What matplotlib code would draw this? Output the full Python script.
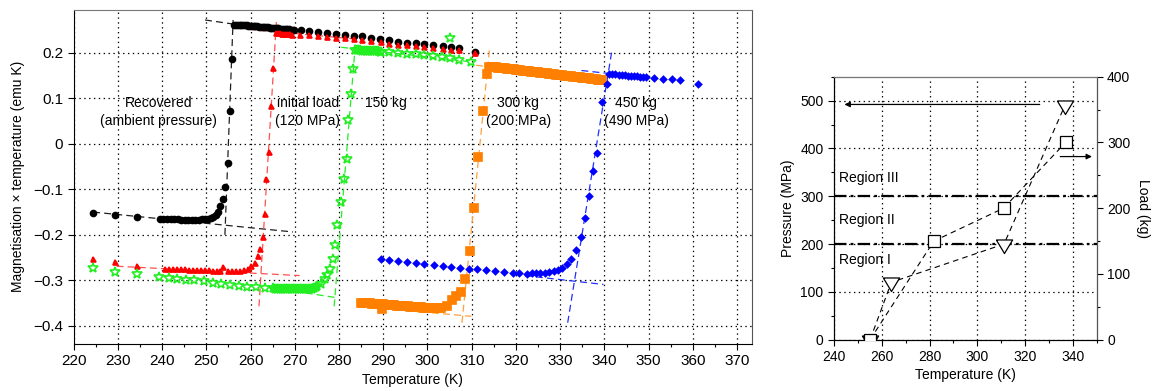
import matplotlib.pyplot as plt
from matplotlib.ticker import MultipleLocator

plt.rcParams['font.family'] = ['Liberation Sans', 'DejaVu Sans']
plt.rcParams['font.size'] = 10
plt.rcParams['lines.scale_dashes'] = False

# ---- left panel: magnetisation x temperature vs temperature ----
black_T = [224.4, 229.4, 234.4,
           239.5, 240.3, 241.1, 241.9, 242.7, 243.5, 244.3, 245.1, 245.9, 246.7, 247.5, 248.3, 249.1, 249.8,
           250.4, 251.0, 251.6, 252.1, 252.7, 253.2, 253.7, 254.2, 254.8, 255.3, 255.8,
           256.3, 256.7, 257.1, 257.5, 257.9, 258.3, 258.7, 259.1, 259.5, 259.9, 260.3, 260.7, 261.1, 261.5,
           261.9, 262.3, 262.7, 263.1, 263.5, 263.9, 264.3, 264.7, 265.1, 265.5, 265.9, 266.3, 266.7, 267.1,
           267.5, 267.9, 268.3, 268.7, 269.1, 269.5, 269.9,
           271.3, 273.3, 275.3, 277.2, 279.3, 281.3, 283.3, 285.2, 287.3, 289.3, 291.4, 293.4, 295.4, 297.4,
           299.3, 301.3, 303.4, 305.3, 307.1, 310.7]
black_M = [-0.151, -0.156, -0.161,
           -0.165, -0.165, -0.166, -0.166, -0.166, -0.166, -0.167, -0.167, -0.167, -0.167, -0.167, -0.167, -0.166, -0.166,
           -0.165, -0.163, -0.160, -0.156, -0.149, -0.137, -0.121, -0.095, -0.042, 0.072, 0.187,
           0.262, 0.262, 0.261, 0.261, 0.261, 0.260, 0.260, 0.260, 0.259, 0.259, 0.259, 0.258, 0.258, 0.258,
           0.257, 0.257, 0.257, 0.256, 0.256, 0.256, 0.255, 0.255, 0.255, 0.254, 0.254, 0.254, 0.253, 0.253,
           0.253, 0.252, 0.252, 0.252, 0.251, 0.251, 0.250,
           0.249, 0.247, 0.245, 0.243, 0.242, 0.240, 0.237, 0.236, 0.233, 0.230, 0.227, 0.2245, 0.222, 0.221,
           0.219, 0.218, 0.215, 0.212, 0.2105, 0.2025]

red_T = [224.3, 229.3, 234.4,
         240.6, 241.5, 242.4, 243.3, 244.2, 245.1, 246.0, 246.9, 247.8, 248.7, 249.6, 250.5, 251.4, 252.3,
         253.2, 253.8, 255.0, 255.9, 256.8, 257.7, 258.6, 259.4,
         260.2, 261.0, 261.6, 262.2, 262.7, 263.2, 263.6, 264.1, 264.7, 265.1,
         265.8, 266.2, 266.6, 267.0, 267.4, 267.8, 268.2, 268.6, 269.0, 269.4,
         271.1, 273.3, 275.2, 277.2, 279.3, 281.3, 283.3, 285.2, 287.3, 289.4, 291.4, 293.4, 295.4, 297.4,
         299.3, 301.3, 303.4, 305.3, 307.1, 310.7]
red_M = [-0.254, -0.260, -0.2675,
         -0.274, -0.274, -0.275, -0.275, -0.276, -0.276, -0.277, -0.277, -0.277, -0.278, -0.278, -0.278, -0.279, -0.279,
         -0.279, -0.270, -0.279, -0.279, -0.279, -0.279, -0.278, -0.275,
         -0.2675, -0.262, -0.247, -0.231, -0.205, -0.154, -0.077, -0.018, 0.082, 0.167,
         0.243, 0.243, 0.2425, 0.242, 0.242, 0.2415, 0.241, 0.241, 0.2405, 0.240,
         0.239, 0.238, 0.236, 0.235, 0.233, 0.232, 0.230, 0.229, 0.2255, 0.223, 0.220, 0.218, 0.216, 0.214,
         0.212, 0.211, 0.209, 0.207, 0.205, 0.199]

green_T = [224.3, 229.3, 234.4, 239.3, 241.5, 243.4, 245.5, 247.3, 249.4, 251.4, 253.3, 255.3, 257.3, 259.3,
           261.2, 263.3,
           265.1, 265.5, 265.9, 266.3, 266.7, 267.1, 267.5, 267.9, 268.3, 268.7, 269.1, 269.5, 269.9, 270.3,
           270.7, 271.1, 271.5, 271.9, 272.3, 272.7, 273.1, 273.5, 273.9, 274.3, 274.7, 275.1,
           276.0, 276.8, 277.3, 277.9, 278.6, 279.1, 279.5, 280.5, 281.1, 281.7, 282.1, 282.6, 283.2,
           283.6, 284.0, 284.4, 284.8, 285.2, 285.6, 286.0, 286.4, 286.8, 287.2, 287.6, 288.0, 288.4, 288.8,
           289.2, 289.6,
           291.3, 293.3, 295.4, 297.3, 299.3, 301.2, 303.2, 305.2, 307.2, 309.9, 305.2]
green_M = [-0.2727, -0.2807, -0.287, -0.293, -0.295, -0.2975, -0.299, -0.300, -0.302, -0.305, -0.307, -0.310,
           -0.313, -0.314, -0.315, -0.316,
           -0.317, -0.318, -0.318, -0.318, -0.319, -0.319, -0.319, -0.319, -0.320, -0.320, -0.320, -0.320,
           -0.320, -0.320, -0.320, -0.320, -0.320, -0.320, -0.320, -0.320, -0.319, -0.319, -0.318, -0.317,
           -0.315, -0.313,
           -0.309, -0.298, -0.289, -0.275, -0.253, -0.2215, -0.178, -0.128, -0.077, -0.034, 0.053, 0.109, 0.164,
           0.205, 0.205, 0.205, 0.205, 0.2045, 0.2045, 0.204, 0.204, 0.204, 0.2035, 0.2035, 0.203, 0.203,
           0.203, 0.2025, 0.2025,
           0.201, 0.200, 0.198, 0.197, 0.195, 0.193, 0.190, 0.188, 0.184, 0.180, 0.232]

orange_T = [285.0, 285.5, 286.0, 286.5, 287.0, 287.5, 288.0, 288.5, 289.0, 289.5, 290.0, 290.5, 291.0,
            291.5, 292.0, 292.5, 293.0, 293.5, 294.0, 294.5, 295.0, 295.5, 296.0, 296.5, 297.0, 297.5,
            298.0, 298.5, 299.0, 299.5, 300.0, 300.5, 301.0, 301.5, 302.0, 302.5, 303.0, 289.7,
            304.3, 305.5, 306.5, 307.5, 308.5, 309.5, 310.5, 311.5, 312.5, 313.5,
            314.0, 314.5, 315.0, 315.5, 316.0, 316.5, 317.0, 317.5, 318.0, 318.5, 319.0, 319.5, 320.0,
            320.5, 321.0, 321.5, 322.0, 322.5, 323.0, 323.5, 324.0, 324.5, 325.0, 325.5, 326.0, 326.5,
            327.0, 327.5, 328.0, 328.5, 329.0, 329.5, 330.0, 330.5, 331.0, 331.5, 332.0, 332.5, 333.0,
            333.5, 334.0, 334.5, 335.0, 335.5, 336.0, 336.5, 337.0, 337.5, 338.0, 338.5, 339.0, 339.5]
orange_M = [-0.3490, -0.3493, -0.3497, -0.3501, -0.3505, -0.3509, -0.3513, -0.3517, -0.3521, -0.3525,
            -0.3529, -0.3533, -0.3537, -0.3541, -0.3545, -0.3549, -0.3553, -0.3557, -0.3561, -0.3565,
            -0.3569, -0.3573, -0.3577, -0.3581, -0.3585, -0.3588, -0.3591, -0.3594, -0.3597, -0.3600,
            -0.3603, -0.3605, -0.3607, -0.3609, -0.3610, -0.3610, -0.3605, -0.3626,
            -0.357, -0.3436, -0.335, -0.325, -0.297, -0.235, -0.141, -0.029, 0.071, 0.153,
            0.1696, 0.1690, 0.1684, 0.1678, 0.1673, 0.1667, 0.1661, 0.1655, 0.1649, 0.1644,
            0.1638, 0.1632, 0.1626, 0.1620, 0.1615, 0.1609, 0.1603, 0.1597, 0.1591, 0.1586,
            0.1580, 0.1574, 0.1568, 0.1562, 0.1557, 0.1551, 0.1545, 0.1539, 0.1533, 0.1528,
            0.1522, 0.1516, 0.1510, 0.1504, 0.1499, 0.1493, 0.1487, 0.1481, 0.1475, 0.1470,
            0.1464, 0.1458, 0.1452, 0.1446, 0.1441, 0.1435, 0.1429, 0.1423, 0.1417, 0.1412,
            0.1406, 0.1400]

blue_T = [289.4, 291.4, 293.4, 295.3, 297.4, 299.3, 301.5, 303.5, 305.3, 307.3, 309.3, 311.3, 313.2,
          315.3, 317.3, 319.4, 320.6, 322.5, 323.7, 324.6, 325.5, 326.5, 327.5, 328.5, 329.5, 330.5,
          331.5, 332.5, 333.5, 334.6, 335.6, 336.5, 337.5, 338.4, 339.4, 340.6,
          341.1, 341.8, 342.5, 343.2, 343.9, 344.6, 345.3, 346.0, 346.7, 347.4, 348.1, 348.8, 349.5,
          351.3, 353.2, 355.3, 357.1, 361.2]
blue_M = [-0.252, -0.2547, -0.257, -0.2595, -0.262, -0.264, -0.266, -0.268, -0.270, -0.272, -0.274, -0.275,
          -0.277, -0.2796, -0.282, -0.2835, -0.284, -0.286, -0.284, -0.2835, -0.2835, -0.283, -0.282, -0.2796,
          -0.277, -0.272, -0.264, -0.252, -0.234, -0.205, -0.163, -0.115, -0.060, -0.0205, 0.0914, 0.1316,
          0.1535, 0.153, 0.1525, 0.152, 0.1515, 0.151, 0.150, 0.1495, 0.149, 0.148, 0.1475, 0.147, 0.146,
          0.144, 0.143, 0.142, 0.141, 0.1316]

# dashed fit lines: (T start, T end), (M start, M end)
black_fits = [((249.7, 265.0), (0.272, 0.2505)), ((224.4, 269.6), (-0.150, -0.1937)),
              ((254.2, 256.05), (-0.200, 0.272))]
red_fits = [((259.8, 285.0), (0.2515, 0.229)), ((229.7, 271.1), (-0.269, -0.2895)),
            ((261.9, 265.85), (-0.357, 0.270))]
green_fits = [((280.5, 309.0), (0.212, 0.181)), ((265.0, 279.4), (-0.3165, -0.338)),
              ((278.9, 283.95), (-0.357, 0.250))]
orange_fits = [((311.0, 339.5), (0.1725, 0.140)), ((296.0, 309.9), (-0.367, -0.379)),
               ((307.8, 314.05), (-0.393, 0.211))]
blue_fits = [((334.8, 350.0), (0.161, 0.145)), ((322.0, 339.8), (-0.2895, -0.309)),
             ((331.7, 341.7), (-0.393, 0.205))]

labels = ['Recovered\n(ambient pressure)', 'initial load\n(120 MPa)', '150 kg',
          '300 kg\n(200 MPa)', '450 kg\n(490 MPa)']
label_T = [239.1, 272.9, 290.5, 320.5, 347.2]
label_M = [0.070, 0.070, 0.090, 0.070, 0.070]

# ---- right panel: pressure / load vs transition temperature ----
press_T = [255.1, 264.0, 311.2, 336.7]
press = [0, 120, 200, 490]
load_T = [255.1, 281.8, 311.0, 337.0]
load = [0, 150, 200, 300]
region_lines = [200, 300]
region_names = ['Region I', 'Region II', 'Region III']
region_y = [167, 250, 338]


fig = plt.figure(figsize=(11.6, 3.91), dpi=100)
ax = fig.add_axes([0.0635, 0.120, 0.5845, 0.8557])

series = [
    (black_T, black_M, 'black', 'o', 4.3, 'black', black_fits, '#202020'),
    (red_T, red_M, 'red', '^', 3.6, 'red', red_fits, '#ff5050'),
    (green_T, green_M, '#22ee22', '*', 7.5, 'none', green_fits, '#22ee22'),
    (orange_T, orange_M, '#ff8000', 's', 5.2, '#ff8000', orange_fits, '#ffa040'),
    (blue_T, blue_M, 'blue', 'D', 3.2, 'blue', blue_fits, '#2030ff'),
]
for T, M, c, mk, ms, mfc, fits, fc in series:
    for (t0, t1), (m0, m1) in fits:
        ax.plot([t0, t1], [m0, m1], color=fc, lw=0.9, ls=(0, (5, 3)), zorder=2)
    ax.plot(T, M, ls='none', marker=mk, ms=ms, color=c, mfc=mfc, mec=c, mew=1.2, zorder=3)

for txt, t, m in zip(labels, label_T, label_M):
    ax.text(t, m, txt, ha='center', va='center', fontsize=10, linespacing=1.3, zorder=4)

ax.set_xlim(220, 373.3)
ax.set_ylim(-0.44, 0.295)
ax.xaxis.set_major_locator(MultipleLocator(10))
ax.xaxis.set_minor_locator(MultipleLocator(5))
ax.set_yticks([-0.4, -0.3, -0.2, -0.1, 0, 0.1, 0.2])
ax.set_yticklabels(['\u22120.4', '\u22120.3', '\u22120.2', '\u22120.1', '0', '0.1', '0.2'])
ax.grid(True, which='major', color='black', ls=(0, (1, 2.5)), lw=0.9)
ax.tick_params(labelsize=11, length=4, width=0.8)
ax.tick_params(which='minor', length=2.5, width=0.8)
ax.set_xlabel('Temperature (K)', fontsize=10, labelpad=3)
ax.set_ylabel('Magnetisation \u00d7 temperature (emu K)', fontsize=10, labelpad=6)
ax.spines['top'].set_color('#777777')
ax.spines['right'].set_color('#555555')

# right panel
ax2 = fig.add_axes([0.719, 0.1312, 0.2264, 0.6726])
ax3 = ax2.twinx()

tri = [(-1, 0.555), (1, 0.555), (0, -1.11), (-1, 0.555)]
ax2.plot(press_T, press, color='black', lw=0.8, ls=(0, (4, 3)), marker=tri, ms=13,
         mfc='white', mec='black', mew=0.9, zorder=3)
ax3.plot(load_T, load, color='black', lw=0.8, ls=(0, (4, 3)), marker='s', ms=8,
         mfc='white', mec='black', mew=0.9, zorder=3)

for p in region_lines:
    ax2.axhline(p, color='black', lw=1.6, ls=(0, (9, 3, 2, 3)), zorder=2)
for name, p in zip(region_names, region_y):
    ax2.text(242, p, name, ha='left', va='center', fontsize=10)

ax2.annotate('', xy=(243.2, 492), xytext=(327.3, 492),
             arrowprops=dict(arrowstyle='-|>', color='black', lw=0.9, mutation_scale=8))
ax2.annotate('', xy=(349.2, 383), xytext=(333.6, 383),
             arrowprops=dict(arrowstyle='-|>', color='black', lw=0.9, mutation_scale=8))

ax2.set_xlim(240, 350)
ax2.set_ylim(0, 550)
ax3.set_ylim(0, 400)
ax2.set_xticks([240, 260, 280, 300, 320, 340])
ax2.xaxis.set_minor_locator(MultipleLocator(10))
ax2.set_yticks([0, 100, 200, 300, 400, 500])
ax2.yaxis.set_minor_locator(MultipleLocator(50))
ax3.set_yticks([0, 100, 200, 300, 400])
ax3.yaxis.set_minor_locator(MultipleLocator(50))
ax2.grid(True, which='major', color='black', ls=(0, (1, 2.5)), lw=0.9)
for a in (ax2, ax3):
    a.tick_params(labelsize=10, length=4, width=0.8)
    a.tick_params(which='minor', length=2.5, width=0.8)
ax2.set_xlabel('Temperature (K)', fontsize=10, labelpad=3)
ax2.set_ylabel('Pressure (MPa)', fontsize=10, labelpad=4)
ax3.set_ylabel('Load (kg)', fontsize=10, rotation=270, labelpad=14)
ax3.spines['top'].set_color('#777777')
ax3.spines['right'].set_color('#555555')

fig.savefig('out.png', dpi=100)
